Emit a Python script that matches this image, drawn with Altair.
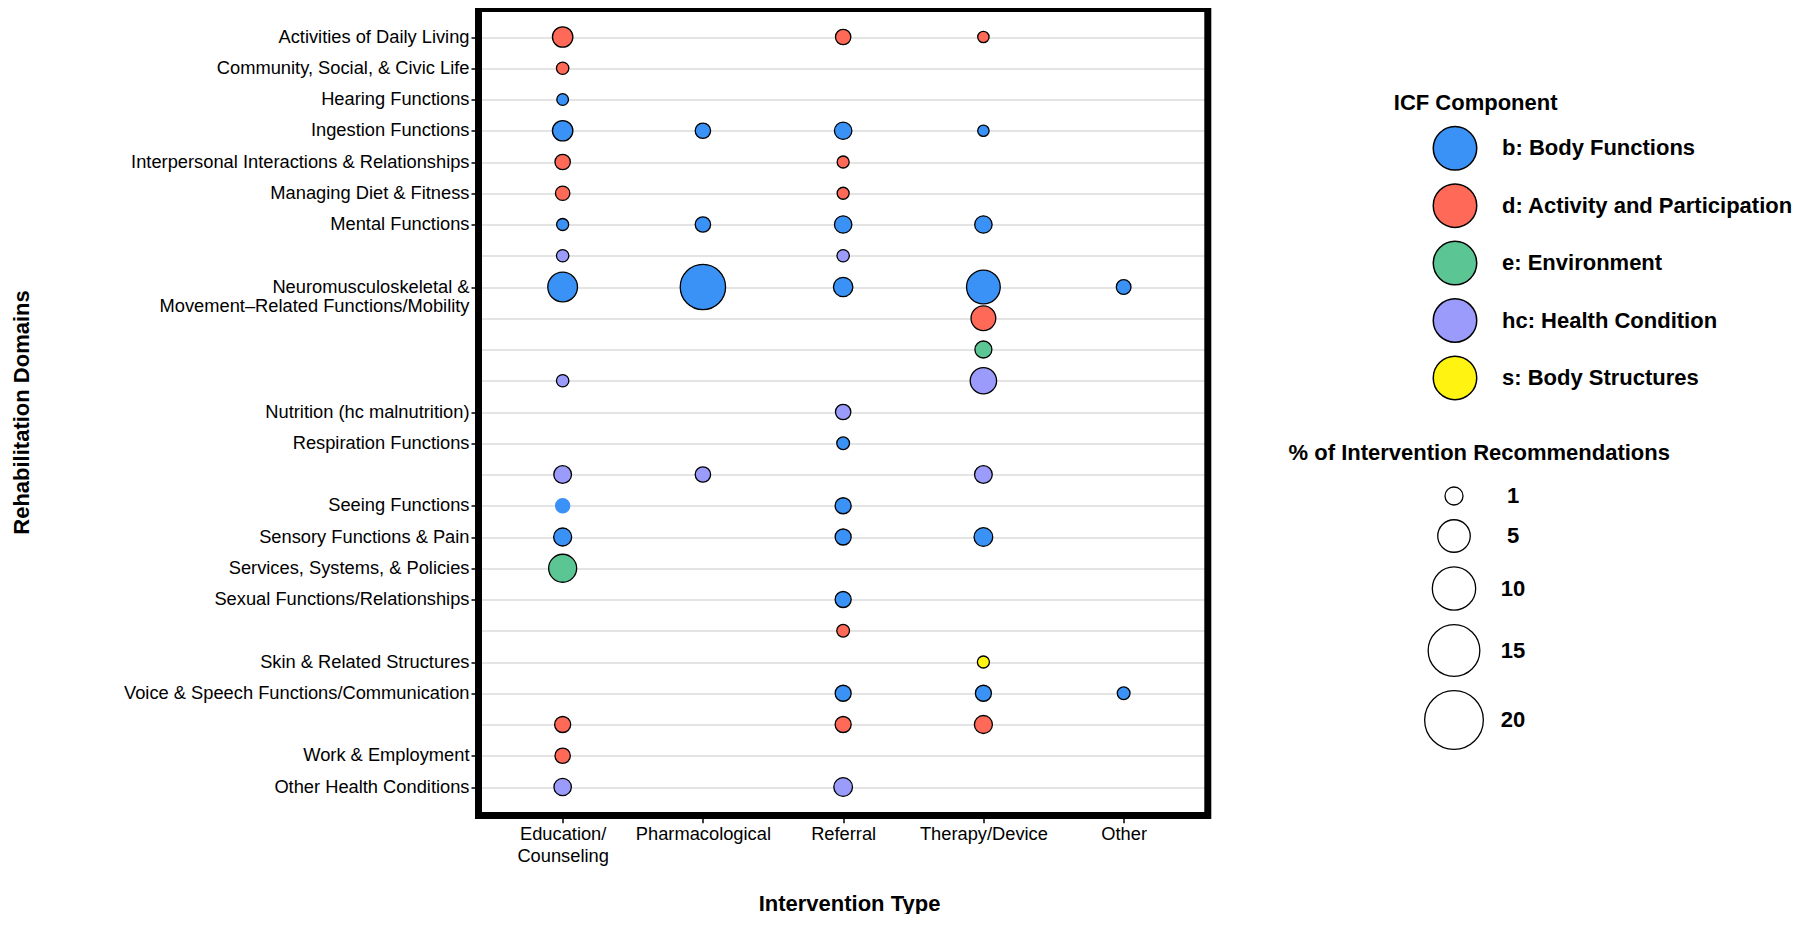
import math
import altair as alt
import pandas as pd

# ---------------- data ----------------
types = ["Education/Counseling", "Pharmacological", "Referral", "Therapy/Device", "Other"]

# "~" marks an unlabeled sub-row; "|" marks a line break in the label
row_keys = [
    "Activities of Daily Living",
    "Community, Social, & Civic Life",
    "Hearing Functions",
    "Ingestion Functions",
    "Interpersonal Interactions & Relationships",
    "Managing Diet & Fitness",
    "Mental Functions",
    "~Mental Functions (hc)",
    "Neuromusculoskeletal &|Movement–Related Functions/Mobility",
    "~Neuromusculoskeletal (d)",
    "~Neuromusculoskeletal (e)",
    "~Neuromusculoskeletal (hc)",
    "Nutrition (hc malnutrition)",
    "Respiration Functions",
    "~Respiration Functions (hc)",
    "Seeing Functions",
    "Sensory Functions & Pain",
    "Services, Systems, & Policies",
    "Sexual Functions/Relationships",
    "~Sexual Functions/Relationships (d)",
    "Skin & Related Structures",
    "Voice & Speech Functions/Communication",
    "~Voice & Speech Functions/Communication (d)",
    "Work & Employment",
    "Other Health Conditions",
]
row_comp = ["d", "d", "b", "b", "d", "d", "b", "hc", "b", "d", "e", "hc", "hc",
            "b", "hc", "b", "b", "e", "b", "d", "s", "b", "d", "d", "hc"]

comp_codes = ["b", "d", "e", "hc", "s"]
comp_labels = ["b: Body Functions", "d: Activity and Participation", "e: Environment",
               "hc: Health Condition", "s: Body Structures"]
comp_colors = ["#3A92F6", "#FE6A57", "#5CC594", "#9A9BFA", "#FFF312"]

# points: row index, intervention-type index, % of recommendations
pt_row = [0, 0, 0, 1, 2, 3, 3, 3, 3, 4, 4, 5, 5, 6, 6, 6, 6, 7, 7,
          8, 8, 8, 8, 8, 9, 10, 11, 11, 12, 13, 14, 14, 14, 15, 15,
          16, 16, 16, 17, 18, 19, 20, 21, 21, 21, 22, 22, 22, 23, 24, 24]
pt_type = [0, 2, 3, 0, 0, 0, 1, 2, 3, 0, 2, 0, 2, 0, 1, 2, 3, 0, 2,
           0, 1, 2, 3, 4, 3, 3, 0, 3, 2, 2, 0, 1, 3, 0, 2,
           0, 2, 3, 0, 2, 2, 3, 2, 3, 4, 0, 2, 3, 0, 0, 2]
pt_pct = [1.45, 0.60, 0.19, 0.27, 0.21, 1.45, 0.60, 0.90, 0.19, 0.60, 0.24, 0.48, 0.24,
          0.24, 0.60, 0.90, 0.90, 0.27, 0.27,
          3.99, 11.1, 1.25, 5.47, 0.51, 2.47, 0.83, 0.27, 2.94, 0.60, 0.30,
          0.95, 0.60, 0.95, 0.60, 0.69,
          1.0, 0.69, 1.12, 3.43, 0.69, 0.30, 0.24, 0.69, 0.69, 0.30,
          0.69, 0.69, 1.0, 0.60, 0.90, 1.12]

size_breaks = [1, 5, 10, 15, 20]

df = pd.DataFrame({
    "row": [row_keys[i] for i in pt_row],
    "type": [types[j] for j in pt_type],
    "component": [comp_labels[comp_codes.index(row_comp[i])] for i in pt_row],
    "pct": pt_pct,
})

# ---------------- style / layout ----------------
FONT = "Liberation Sans"
D0, DK, LIM = 6.3, 52.4, 20          # diameter = D0 + DK*sqrt(pct/LIM)
size_vals = [D0 + DK * math.sqrt(v / LIM) for v in size_breaks]

W, H = 729.3, 807
PAD_L, PAD_T = 470.5, 0.5
PAD_R = 1784 - PAD_L - W
PAD_B = 906 - PAD_T - H

x_axis = alt.Axis(
    title="Intervention Type", titleFontSize=22, titleFontWeight="bold", titleColor="black",
    titleX=370.5, titleY=94.5, titleBaseline="alphabetic", titleAlign="center",
    labelFontSize=18.3, labelColor="black", labelAngle=0, labelBaseline="top",
    labelExpr="datum.label == 'Education/Counseling' ? ['Education/', 'Counseling'] : datum.label",
    labelLineHeight=21.7, labelPadding=3,
    tickSize=7.2, tickColor="black", tickWidth=1.5, domain=False, grid=False,
)
y_axis = alt.Axis(
    title="Rehabilitation Domains", titleFontSize=22, titleFontWeight="bold", titleColor="black",
    titleX=-457.5, titleBaseline="middle",
    labelFontSize=18.3, labelColor="black", labelLimit=600, labelPadding=2,
    labelExpr="indexof(datum.label, '~') == 0 ? '' : split(datum.label, '|')",
    labelLineHeight=19,
    tickSize=7.5, tickColor="black", tickWidth=1.5,
    tickOpacity={"condition": {"test": "indexof(datum.value, '~') == 0", "value": 0}, "value": 1},
    domain=False, grid=True, gridColor="#E4E4E4", gridWidth=2,
)

color_legend = alt.Legend(
    title="ICF Component", orient="none", legendX=915.3, legendY=84.7, padding=0,
    titleFontSize=22, titleFontWeight="bold", titleColor="black", titlePadding=10.6,
    titleAnchor="start",
    labelFontSize=22, labelFontWeight="bold", labelColor="black", labelLimit=600,
    labelExpr="indexof(datum.label, 'hc:') == 0 ? datum.label : '\u00a0' + datum.label",
    symbolType="circle", symbolSize=1890, symbolStrokeColor="black", symbolStrokeWidth=1.5,
    symbolOpacity=1, symbolOffset=38.7, labelOffset=24.5, rowPadding=6.4,
)
size_legend = alt.Legend(
    title="% of Intervention Recommendations", orient="none", legendX=810.1, legendY=434.7,
    padding=0,
    titleFontSize=22, titleFontWeight="bold", titleColor="black", titlePadding=19.8,
    titleAnchor="start", titleLimit=600,
    labelFontSize=22, labelFontWeight="bold", labelColor="black", labelAlign="center",
    values=size_vals,
    labelExpr=f"format(round({LIM} * pow((datum.value - {D0}) / {DK}, 2)), 'd')",
    symbolType="circle", symbolFillColor="white", symbolStrokeColor="black",
    symbolStrokeWidth=1.3, symbolOpacity=1, symbolOffset=135.4, labelOffset=29,
    rowPadding=9,
)

points = alt.Chart(df).transform_calculate(
    diam=f"{D0} + {DK} * sqrt(datum.pct / {LIM})"
).mark_point(
    filled=True, shape="circle", opacity=1, stroke="black", strokeWidth=1.3
).encode(
    x=alt.X("type:N", scale=alt.Scale(type="point", domain=types, padding=0.6), axis=x_axis),
    y=alt.Y("row:N", scale=alt.Scale(type="point", domain=row_keys, padding=0.912), axis=y_axis),
    color=alt.Color("component:N", scale=alt.Scale(domain=comp_labels, range=comp_colors),
                    legend=color_legend),
    size=alt.Size("diam:Q", scale=alt.Scale(type="pow", exponent=2, domain=[0, 60], range=[0, 3600]),
                  legend=size_legend),
    strokeOpacity=alt.condition(
        "datum.row == 'Seeing Functions' && datum.type == 'Education/Counseling'",
        alt.value(0), alt.value(1)),
)

# panel frame drawn above the grid lines
frame = alt.Chart(pd.DataFrame({"f": [0]})).mark_rect(
    fillOpacity=0, stroke="black", strokeWidth=7
).encode(
    x=alt.value(0), x2=alt.value(W), y=alt.value(0), y2=alt.value(H)
)

chart = alt.layer(points, frame).properties(
    width=W, height=H,
    autosize=alt.AutoSizeParams(type="none"),
    padding={"left": PAD_L, "top": PAD_T, "right": PAD_R, "bottom": PAD_B},
).configure(
    font=FONT, background="white"
).configure_view(
    strokeWidth=0
)

chart.save("out.html", embed_options={"renderer": "svg", "actions": False})
